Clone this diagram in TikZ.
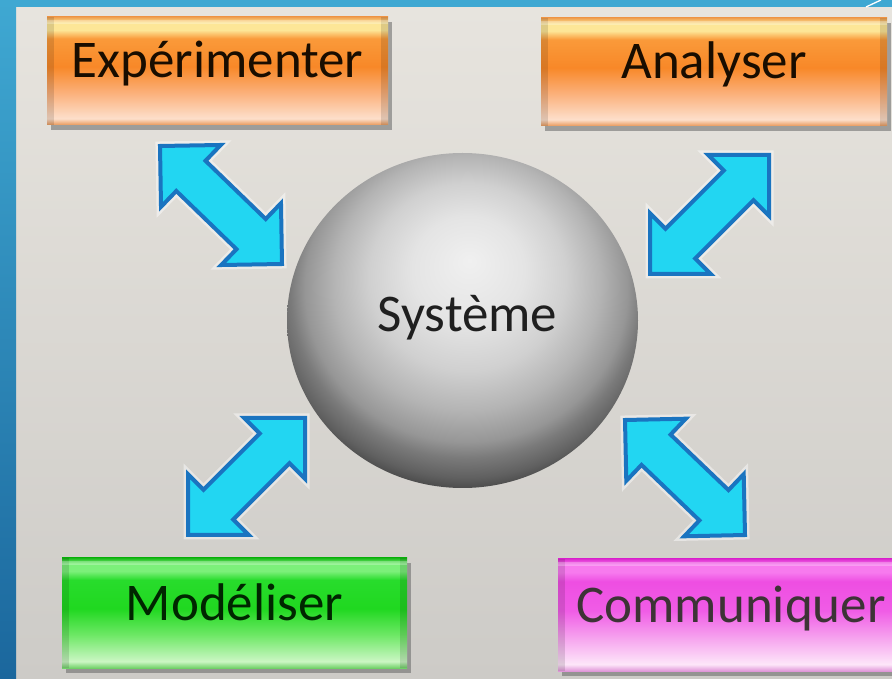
\documentclass[tikz,border=0pt]{standalone}
\usepackage{fontspec}
\setmainfont{Carlito}
\usetikzlibrary{calc,shapes.geometric,shadows}

\definecolor{blueTop}{HTML}{3FA8D2}
\definecolor{blueBot}{HTML}{1B679D}
\definecolor{bgTop}{HTML}{E7E4DE}
\definecolor{bgBot}{HTML}{CDCBC7}
\definecolor{arrFill}{HTML}{22D6F2}
\definecolor{arrLine}{HTML}{1A74C0}

% orange box colours
\definecolor{oA}{HTML}{E8985A}
\definecolor{oB}{HTML}{FDDFCB}
\definecolor{oC}{HTML}{FBB07A}
\definecolor{oD}{HTML}{F88828}
\definecolor{oE}{HTML}{FA9A3A}
\definecolor{oF}{HTML}{FDE697}
\definecolor{oG}{HTML}{F0A050}
% green box colours
\definecolor{gA}{HTML}{70D068}
\definecolor{gB}{HTML}{CBF6C4}
\definecolor{gC}{HTML}{6EE866}
\definecolor{gD}{HTML}{20D820}
\definecolor{gE}{HTML}{28DC2C}
\definecolor{gF}{HTML}{7CF07A}
\definecolor{gG}{HTML}{19B919}
% magenta box colours
\definecolor{mA}{HTML}{E096D8}
\definecolor{mB}{HTML}{FDE6F9}
\definecolor{mC}{HTML}{F6A2EE}
\definecolor{mD}{HTML}{F05CE6}
\definecolor{mE}{HTML}{EE4EE2}
\definecolor{mF}{HTML}{F77AEE}
\definecolor{mG}{HTML}{DD2CD0}
% sphere colours
\definecolor{sA}{HTML}{F0F0F0}
\definecolor{sB}{HTML}{E4E4E4}
\definecolor{sC}{HTML}{D0D0D0}
\definecolor{sD}{HTML}{B4B4B4}
\definecolor{sE}{HTML}{969696}
\definecolor{sF}{HTML}{7A7A7A}
\definecolor{sG}{HTML}{606060}
\definecolor{sH}{HTML}{4A4A4A}

% TikZ maps a path's bounding box onto the central 25bp--75bp of a shading
\pgfdeclareverticalshading{orangebox}{100bp}{color(0bp)=(oA); color(25bp)=(oA); color(28bp)=(oB); color(40bp)=(oC); color(52bp)=(oD); color(65bp)=(oE); color(69bp)=(oF); color(72.5bp)=(oF); color(75bp)=(oG); color(100bp)=(oG)}
\pgfdeclareverticalshading{greenbox}{100bp}{color(0bp)=(gA); color(25bp)=(gA); color(28bp)=(gB); color(40bp)=(gC); color(52bp)=(gD); color(65bp)=(gE); color(69bp)=(gF); color(72.5bp)=(gF); color(75bp)=(gG); color(100bp)=(gG)}
\pgfdeclareverticalshading{magentabox}{100bp}{color(0bp)=(mA); color(25bp)=(mA); color(28bp)=(mB); color(40bp)=(mC); color(52bp)=(mD); color(65bp)=(mE); color(69bp)=(mF); color(72.5bp)=(mF); color(75bp)=(mG); color(100bp)=(mG)}
\pgfdeclareradialshading{sphereshade}{\pgfpoint{1bp}{9bp}}{color(0bp)=(sA); color(8bp)=(sB); color(14bp)=(sC); color(19bp)=(sD); color(23bp)=(sE); color(25bp)=(sF); color(27.5bp)=(sG); color(29bp)=(sH); color(50bp)=(sH)}

\newcommand\dblarrow[2]{%
  \coordinate (#1#2p) at ($(#1)!43pt!(#2)$);
  \coordinate (#1#2q) at ($(#2)!43pt!(#1)$);
  \filldraw[blockarrow] (#1) -- ($(#1#2p)!43pt!90:(#2)$) -- ($(#1#2p)!21pt!90:(#2)$)
    -- ($(#1#2q)!21pt!-90:(#1)$) -- ($(#1#2q)!43pt!-90:(#1)$) -- (#2)
    -- ($(#1#2q)!43pt!90:(#1)$) -- ($(#1#2q)!21pt!90:(#1)$)
    -- ($(#1#2p)!21pt!-90:(#2)$) -- ($(#1#2p)!43pt!-90:(#2)$) -- cycle;
}

\tikzset{
  boxbase/.style={rectangle, inner sep=0pt, font=\fontsize{53}{60}\selectfont,
    text height=34pt, text depth=20pt,
    drop shadow={shadow xshift=4pt, shadow yshift=-5pt, fill=black!60, opacity=.55},
    path picture={
      \fill[black, opacity=.12] (path picture bounding box.north west) rectangle ([xshift=7pt]path picture bounding box.south west);
      \fill[black, opacity=.12] (path picture bounding box.north east) rectangle ([xshift=-7pt]path picture bounding box.south east);
      \fill[white, opacity=.25] ([yshift=-3pt]path picture bounding box.north west) rectangle ([yshift=-7pt]path picture bounding box.north east);
    }},
  orangeb/.style={boxbase, shading=orangebox, text=black!80!orange!50!black},
  greenb/.style={boxbase, shading=greenbox, text=black!85!green},
  magentab/.style={boxbase, shading=magentabox, text=black!80!magenta!60!black},
  blockarrow/.style={preaction={draw=white, line width=9pt, opacity=.45, line join=miter},
    fill=arrFill, draw=arrLine, line width=4pt, line join=miter},
  spherenode/.style={ellipse, inner sep=0pt, shading=sphereshade,
    font=\fontsize{53}{60}\selectfont, text=black!88, text height=34pt, text depth=11pt}
}

\begin{document}
\begin{tikzpicture}[x=1pt, y=1pt]
  \useasboundingbox (0,0) rectangle (892,678);
  \clip (0,0) rectangle (892,678);

  % background
  \shade[top color=bgTop, bottom color=bgBot] (16,0) rectangle (892,671);
  \shade[top color=blueTop, bottom color=blueBot] (0,0) rectangle (16,678);
  \fill[blueTop] (0,671) rectangle (892,678);
  \draw[white, line width=1.3pt] (866,671) -- (881,678);

  % boxes
  \node[orangeb, minimum width=341pt, minimum height=108pt] (exp) at (217.5,607) {Expérimenter};
  \node[orangeb, minimum width=346pt, minimum height=108pt] (ana) at (714,606) {Analyser};
  \node[greenb, minimum width=345pt, minimum height=110pt] (mod) at (234.5,65) {Modéliser};
  \node[magentab, minimum width=346pt, minimum height=112pt] (com) at (731,63) {Communiquer};

  % sphere
  \node[spherenode, minimum width=351pt, minimum height=335pt] (sys) at (462.5,357.5) {\hspace*{10pt}Système};

  % arrow end points
  \coordinate (e1) at (160,532);
  \coordinate (s1) at (282,414);
  \coordinate (a1) at (769,523);
  \coordinate (s2) at (650,404);
  \coordinate (s3) at (305,260);
  \coordinate (m1) at (188,143);
  \coordinate (s4) at (625,258);
  \coordinate (c1) at (745,143);

  \dblarrow{e1}{s1}
  \dblarrow{a1}{s2}
  \dblarrow{s3}{m1}
  \dblarrow{s4}{c1}
\end{tikzpicture}
\end{document}
